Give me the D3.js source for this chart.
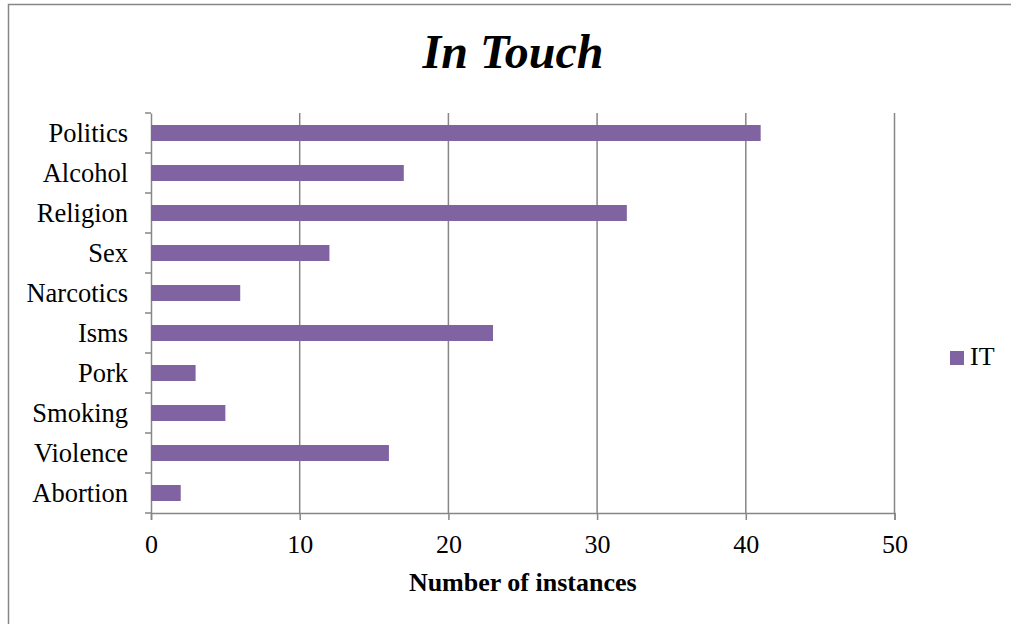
<!DOCTYPE html>
<html>
<head>
<meta charset="utf-8">
<script src="https://cdn.jsdelivr.net/npm/d3@7"></script>
<style>
  html, body { margin: 0; padding: 0; background: #fff; }
  svg { display: block; font-family: "Liberation Serif", "Times New Roman", serif; }
</style>
</head>
<body>
<svg id="chart"></svg>
<script>
(() => {
  const categories = ["Politics", "Alcohol", "Religion", "Sex", "Narcotics", "Isms", "Pork", "Smoking", "Violence", "Abortion"];
  const values = [41, 17, 32, 12, 6, 23, 3, 5, 16, 2];
  const xTicks = [0, 10, 20, 30, 40, 50];
  const seriesName = "IT";

  const width = 1011, height = 624;
  const plot = { left: 151, right: 894.5, top: 113, bottom: 513 };
  const barColor = "#8064A2";
  const lineColor = "#868686";

  const svg = d3.select("#chart")
    .attr("width", width)
    .attr("height", height)
    .attr("viewBox", [0, 0, width, height]);

  // outer chart border (runs off the right / bottom edge)
  svg.append("rect")
    .attr("x", 8.5).attr("y", 4.5)
    .attr("width", 1020).attr("height", 640)
    .attr("fill", "#fff")
    .attr("stroke", lineColor)
    .attr("stroke-width", 1.5);

  const x = d3.scaleLinear().domain([0, 50]).range([plot.left, plot.right]);
  const y = d3.scaleBand()
    .domain(categories)
    .range([plot.top, plot.bottom])
    .paddingInner(0.6)
    .paddingOuter(0.3);

  // title
  svg.append("text")
    .attr("x", 513).attr("y", 68)
    .attr("text-anchor", "middle")
    .style("font-size", "48px")
    .style("font-weight", "bold")
    .style("font-style", "italic")
    .text("In Touch");

  // vertical gridlines
  svg.append("g")
    .selectAll("line")
    .data(xTicks.filter(d => d > 0))
    .join("line")
    .attr("x1", d => x(d)).attr("x2", d => x(d))
    .attr("y1", plot.top).attr("y2", plot.bottom)
    .attr("stroke", lineColor)
    .attr("stroke-width", 1.5);

  // x axis
  const xAxis = svg.append("g")
    .attr("transform", `translate(0,${plot.bottom})`)
    .call(d3.axisBottom(x).tickValues(xTicks).tickSizeOuter(0).tickSize(7));
  xAxis.select(".domain").attr("stroke", lineColor).attr("stroke-width", 1.5);
  xAxis.selectAll(".tick line").attr("stroke", lineColor).attr("stroke-width", 1.5);
  xAxis.selectAll(".tick text")
    .attr("y", 40).attr("dy", 0)
    .attr("fill", "#000")
    .style("font-size", "26px")
    .style("font-family", "Liberation Serif, serif");

  // y axis
  const yAxis = svg.append("g")
    .attr("transform", `translate(${plot.left},0)`)
    .call(d3.axisLeft(y).tickSize(0).tickSizeOuter(0));
  yAxis.select(".domain").attr("stroke", lineColor).attr("stroke-width", 1.5);
  yAxis.selectAll(".tick text")
    .attr("x", -23).attr("dy", "0.34em")
    .attr("fill", "#000")
    .style("font-size", "26.5px")
    .style("font-family", "Liberation Serif, serif");

  // category boundary ticks
  const bounds = d3.range(categories.length + 1).map(i => plot.top + i * y.step());
  yAxis.append("g")
    .selectAll("line")
    .data(bounds)
    .join("line")
    .attr("x1", -6).attr("x2", 0)
    .attr("y1", d => d).attr("y2", d => d)
    .attr("stroke", lineColor)
    .attr("stroke-width", 1.5);

  // bars
  svg.append("g")
    .selectAll("rect")
    .data(categories.map((c, i) => ({ c, v: values[i] })))
    .join("rect")
    .attr("x", x(0))
    .attr("y", d => y(d.c))
    .attr("width", d => x(d.v) - x(0))
    .attr("height", y.bandwidth())
    .attr("fill", barColor);

  // x axis title
  svg.append("text")
    .attr("x", (plot.left + plot.right) / 2).attr("y", 591)
    .attr("text-anchor", "middle")
    .style("font-size", "26px")
    .style("font-weight", "bold")
    .text("Number of instances");

  // legend
  const legend = svg.append("g").attr("transform", "translate(950,351)");
  legend.append("rect")
    .attr("width", 14).attr("height", 14)
    .attr("fill", barColor);
  legend.append("text")
    .attr("x", 20).attr("y", 14)
    .style("font-size", "26px")
    .text(seriesName);
})();
</script>
</body>
</html>
